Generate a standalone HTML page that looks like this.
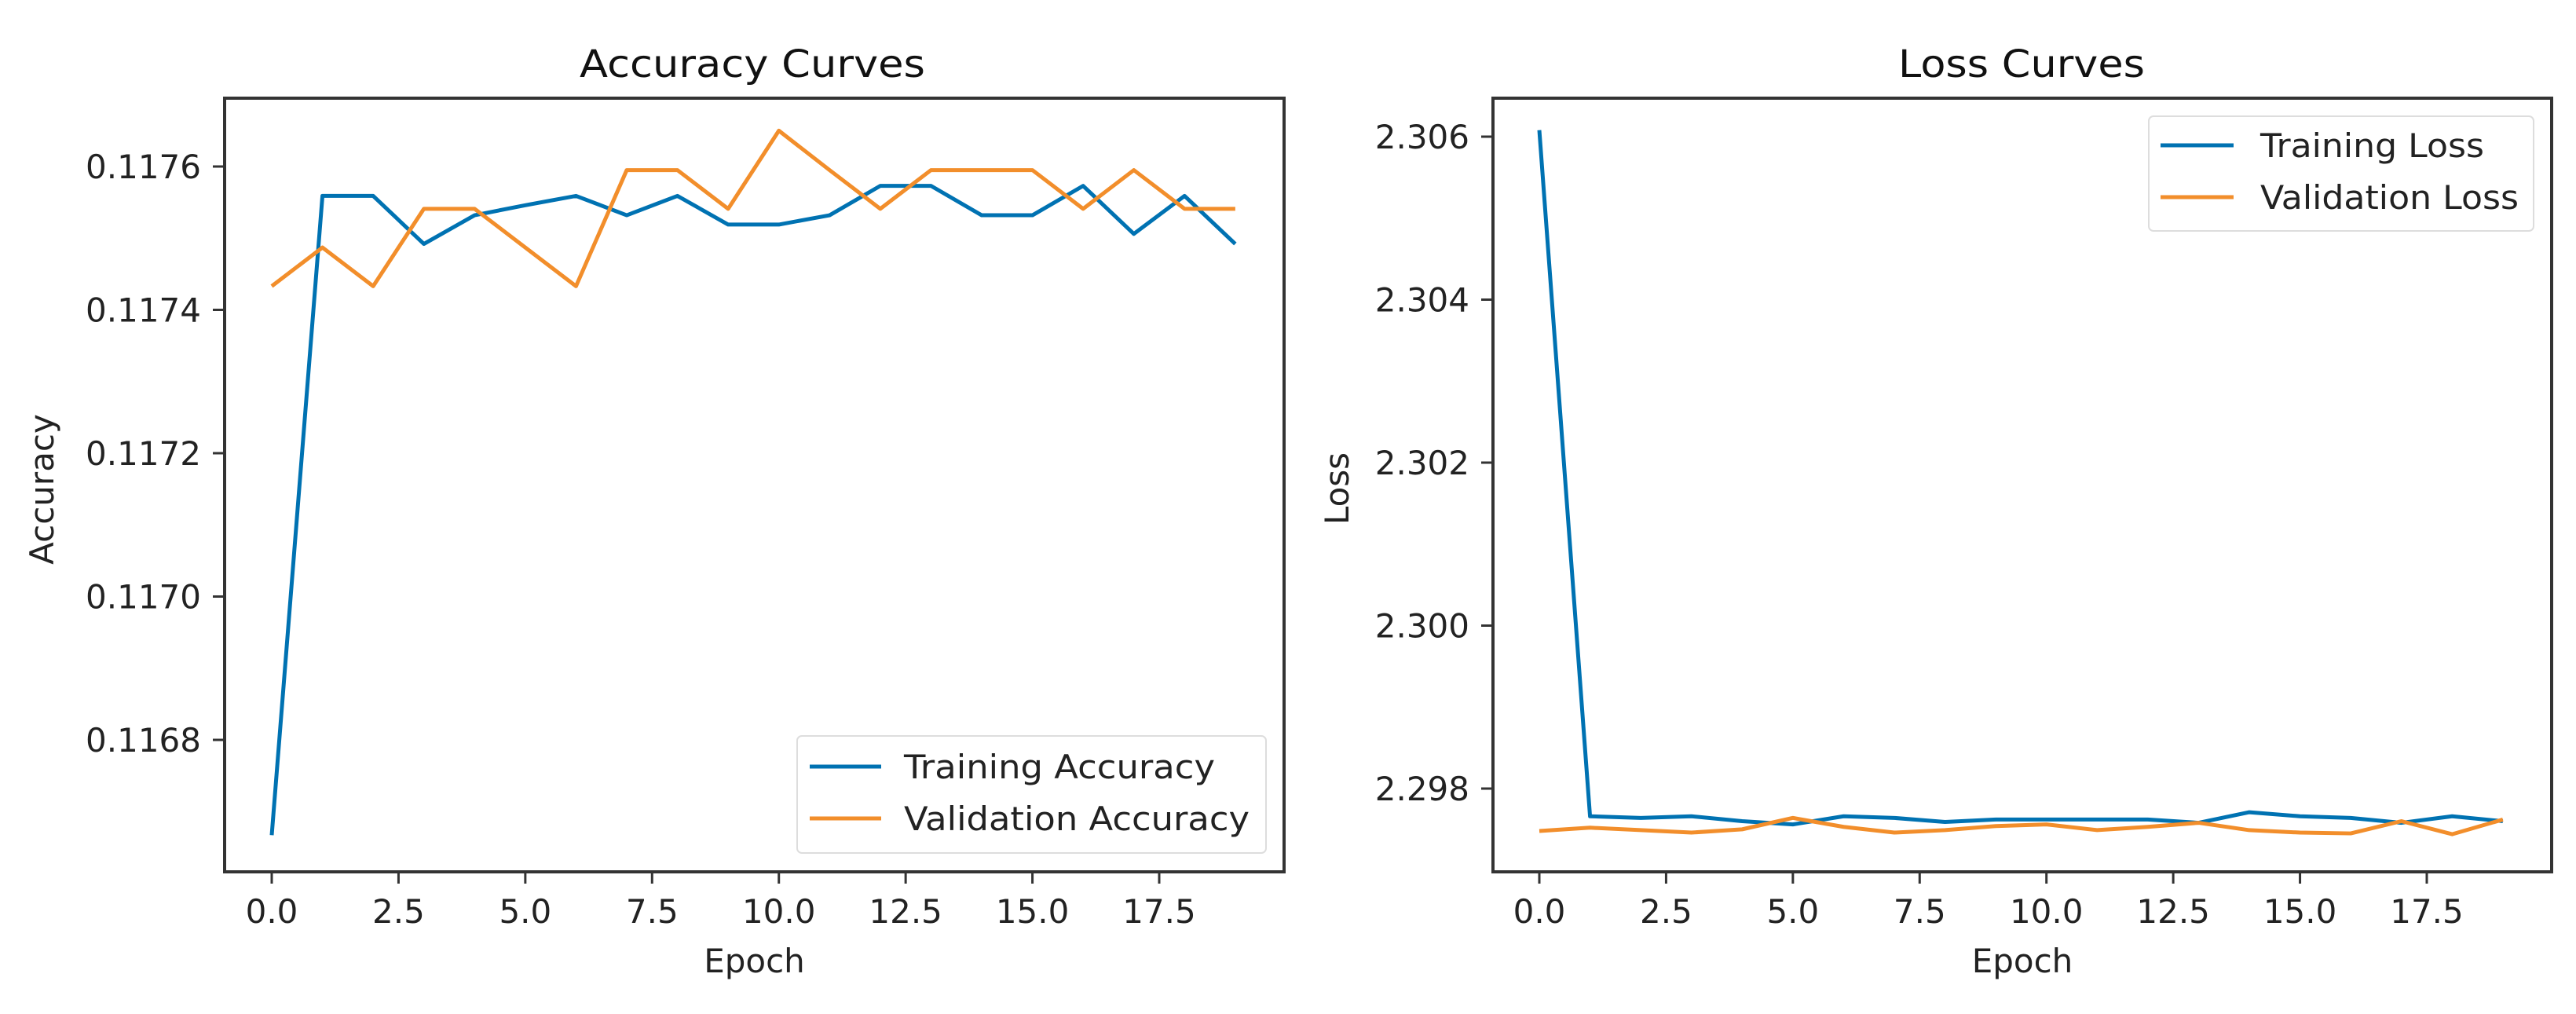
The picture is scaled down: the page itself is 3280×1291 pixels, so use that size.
<!DOCTYPE html>
<html><head><meta charset="utf-8"><style>
html,body{margin:0;padding:0;background:#fff;overflow:hidden;}
svg{display:block;font-family:"DejaVu Sans","Liberation Sans",sans-serif;}
</style></head><body>
<svg id="chart" width="3280" height="1291" viewBox="0 0 3280 1291" xmlns="http://www.w3.org/2000/svg"></svg>
<script>
const epochs = [0,1,2,3,4,5,6,7,8,9,10,11,12,13,14,15,16,17,18,19];
const trainAcc = [0.116667,0.117559,0.117559,0.117492,0.117532,0.117546,0.117559,0.117532,0.117559,0.117519,0.117519,0.117532,0.117573,0.117573,0.117532,0.117532,0.117573,0.117506,0.117559,0.117492];
const valAcc = [0.117433,0.117487,0.117433,0.117541,0.117541,0.117487,0.117433,0.117595,0.117595,0.117541,0.11765,0.117595,0.117541,0.117595,0.117595,0.117595,0.117541,0.117595,0.117541,0.117541];
const trainLoss = [2.30608,2.29766,2.29764,2.29766,2.2976,2.29756,2.29766,2.29764,2.29759,2.29762,2.29762,2.29762,2.29762,2.29758,2.29771,2.29766,2.29764,2.29758,2.29766,2.2976];
const valLoss = [2.29748,2.29752,2.29749,2.29746,2.2975,2.29764,2.29753,2.29746,2.29749,2.29754,2.29756,2.29749,2.29753,2.29758,2.29749,2.29746,2.29745,2.2976,2.29744,2.29762];
const xTicks = [0,2.5,5,7.5,10,12.5,15,17.5];
const xTickLabels = ["0.0","2.5","5.0","7.5","10.0","12.5","15.0","17.5"];
const accTicks = [0.1168,0.117,0.1172,0.1174,0.1176];
const accTickLabels = ["0.1168","0.1170","0.1172","0.1174","0.1176"];
const lossTicks = [2.298,2.3,2.302,2.304,2.306];
const lossTickLabels = ["2.298","2.300","2.302","2.304","2.306"];

const NS="http://www.w3.org/2000/svg";
const svg=document.getElementById('chart');
function mk(tag,attrs,parent){const e=document.createElementNS(NS,tag);for(const k in attrs)e.setAttribute(k,attrs[k]);(parent||svg).appendChild(e);return e;}

function panel(cfg){
  const g=mk('g',{});
  
  
  const xs=v=>cfg.x0+v*(cfg.x175-cfg.x0)/17.5;
  const ys=v=>cfg.yTop+(cfg.vTop-v)*(cfg.yBot-cfg.yTop)/(cfg.vTop-cfg.vBot);
  const fr=mk('rect',{x:cfg.L,y:cfg.T,width:cfg.R-cfg.L,height:cfg.B-cfg.T,fill:'none',stroke:'#333',"stroke-width":4},g);
  
  
  xTicks.forEach((v,i)=>{
    const x=xs(v);
    const t=mk('line',{x1:x,x2:x,y1:cfg.B,y2:cfg.B+15,stroke:'#333',"stroke-width":3},g);
    
    
    const l=mk('text',{x:x,y:1175,"text-anchor":"middle","font-size":42,fill:'#222'},g);
    l.textContent=xTickLabels[i];
    
    
  });
  cfg.yTicks.forEach((v,i)=>{
    const y=ys(v);
    const t=mk('line',{x1:cfg.L-15,x2:cfg.L,y1:y,y2:y,stroke:'#333',"stroke-width":3},g);
    
    
    const l=mk('text',{x:cfg.L-30,y:y+15,"text-anchor":"end","font-size":42,fill:'#222'},g);
    l.textContent=cfg.yLabels[i];
    
    
  });
  const ti=mk('text',{x:cfg.titleX,y:98,"text-anchor":"middle","font-size":48,fill:'#111',textLength:cfg.titleW,lengthAdjust:'spacingAndGlyphs'},g);
  ti.textContent=cfg.title;
  
  
  const xl=mk('text',{x:(cfg.L+cfg.R)/2,y:1238,"text-anchor":"middle","font-size":42,fill:'#222'},g);
  xl.textContent='Epoch';
  
  
  const yl=mk('text',{x:cfg.ylx,y:cfg.yly,"text-anchor":"middle","font-size":42,fill:'#222',transform:`rotate(-90 ${cfg.ylx} ${cfg.yly})`},g);
  yl.textContent=cfg.ylabel;
  
  
  cfg.series.forEach(s=>{
    const p=mk('polyline',{points:epochs.map((e,i)=>xs(e)+','+ys(s.data[i])).join(' '),fill:'none',stroke:s.color,"stroke-width":5,"stroke-linejoin":"round"},g);
    
    
  });
  const lg=mk('g',{},g);
  
  
  const lb=cfg.legend;
  mk('rect',{x:lb.x,y:lb.y,width:lb.w,height:lb.h,rx:6,fill:'#fff',"fill-opacity":0.8,stroke:'#ddd',"stroke-width":2},lg);
  cfg.series.forEach((s,i)=>{
    const y=lb.r0+i*66;
    mk('line',{x1:lb.lx1,x2:lb.lx2,y1:y,y2:y,stroke:s.color,"stroke-width":5},lg);
    const t=mk('text',{x:lb.tx,y:y+15,"font-size":42,fill:'#222',textLength:s.tw,lengthAdjust:'spacingAndGlyphs'},lg);
    t.textContent=s.label;
    
    
  });
}
panel({name:'accuracy-chart',title:'Accuracy Curves',titleX:958,titleW:440,ylabel:'Accuracy',L:286,R:1635,T:125,B:1110,x0:346,x175:1476,
  yTop:212,yBot:942,vTop:0.1176,vBot:0.1168,yTicks:accTicks,yLabels:accTickLabels,ylx:68,yly:623,
  legend:{x:1015,y:937,w:597,h:149,r0:976,lx1:1031,lx2:1122,tx:1151},
  series:[{id:'training-accuracy-line',label:'Training Accuracy',color:'#0072B2',data:trainAcc,tw:396},
          {id:'validation-accuracy-line',label:'Validation Accuracy',color:'#F28E2B',data:valAcc,tw:440}]});
panel({name:'loss-chart',title:'Loss Curves',titleX:2574,titleW:314,ylabel:'Loss',L:1901,R:3249,T:125,B:1110,x0:1960,x175:3090,
  yTop:174,yBot:1004,vTop:2.306,vBot:2.298,yTicks:lossTicks,yLabels:lossTickLabels,ylx:1717,yly:622,
  legend:{x:2736,y:148,w:490,h:146,r0:185,lx1:2751,lx2:2844,tx:2878},
  series:[{id:'training-loss-line',label:'Training Loss',color:'#0072B2',data:trainLoss,tw:285},
          {id:'validation-loss-line',label:'Validation Loss',color:'#F28E2B',data:valLoss,tw:329}]});
</script>
</body></html>
